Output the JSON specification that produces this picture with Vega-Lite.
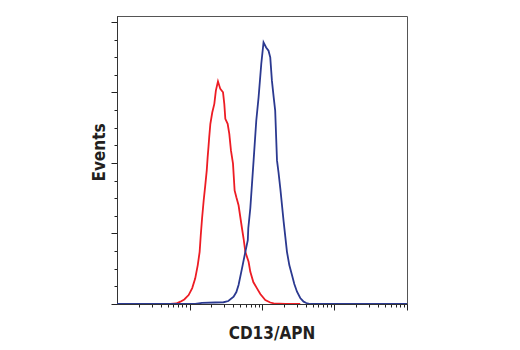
{
  "$schema": "https://vega.github.io/schema/vega-lite/v6.json",
  "width": 290,
  "height": 288,
  "autosize": {"type": "none"},
  "padding": {"left": 117, "top": 16, "right": 113, "bottom": 46},
  "background": "white",
  "config": {
    "view": {"stroke": "#555", "strokeWidth": 1},
    "axis": {"grid": false, "labels": false, "domainColor": "#333", "tickColor": "#222", "domainWidth": 1, "tickWidth": 1,
      "titleFont": "DejaVu Sans Condensed, Liberation Sans, sans-serif", "titleFontSize": 17, "titleFontWeight": "bold", "titleColor": "#231f20"}
  },
  "datasets": {
    "red": [
      {"x": 5.43, "y": 0}, {"x": 6.58, "y": 0.007}, {"x": 7.48, "y": 0.033}, {"x": 8.47, "y": 0.064},
      {"x": 9.73, "y": 0.127}, {"x": 10.9, "y": 0.226}, {"x": 12.0, "y": 0.364}, {"x": 13.0, "y": 0.552},
      {"x": 13.8, "y": 0.74}, {"x": 14.3, "y": 0.976}, {"x": 14.9, "y": 1.212}, {"x": 15.7, "y": 1.471},
      {"x": 16.5, "y": 1.683}, {"x": 17.3, "y": 1.895}, {"x": 17.8, "y": 2.083}, {"x": 18.3, "y": 2.235},
      {"x": 18.7, "y": 2.366}, {"x": 19.4, "y": 2.556}, {"x": 20.6, "y": 2.716}, {"x": 22.0, "y": 2.839},
      {"x": 23.1, "y": 3.027}, {"x": 24.7, "y": 3.158}, {"x": 26.6, "y": 3.051}, {"x": 29.0, "y": 3.003},
      {"x": 30.2, "y": 2.839}, {"x": 31.2, "y": 2.627}, {"x": 33.6, "y": 2.556}, {"x": 35.4, "y": 2.414},
      {"x": 37.3, "y": 2.178}, {"x": 39.8, "y": 1.99}, {"x": 41.9, "y": 1.612}, {"x": 44.3, "y": 1.513},
      {"x": 47.5, "y": 1.4}, {"x": 53.0, "y": 1.071}, {"x": 55.7, "y": 0.929}, {"x": 58.9, "y": 0.74},
      {"x": 65.3, "y": 0.598}, {"x": 69.0, "y": 0.457}, {"x": 75.9, "y": 0.311}, {"x": 85.3, "y": 0.222},
      {"x": 94.8, "y": 0.141}, {"x": 111, "y": 0.057}, {"x": 130, "y": 0.021}, {"x": 145, "y": 0.01},
      {"x": 209, "y": 0}, {"x": 337, "y": 0}
    ],
    "blue": [
      {"x": 1, "y": 0}, {"x": 2.88, "y": 0}, {"x": 12.0, "y": 0}, {"x": 14.9, "y": 0.017},
      {"x": 22.7, "y": 0.021}, {"x": 29.5, "y": 0.025}, {"x": 34.3, "y": 0.042}, {"x": 40.6, "y": 0.103},
      {"x": 44.3, "y": 0.17}, {"x": 47.5, "y": 0.269}, {"x": 53.0, "y": 0.505}, {"x": 58.9, "y": 0.74},
      {"x": 63.7, "y": 0.905}, {"x": 64.7, "y": 1.075}, {"x": 69.0, "y": 1.358}, {"x": 76.6, "y": 2.037},
      {"x": 83.4, "y": 2.603}, {"x": 89.7, "y": 2.932}, {"x": 97.7, "y": 3.404}, {"x": 105, "y": 3.71},
      {"x": 114, "y": 3.639}, {"x": 123, "y": 3.593}, {"x": 130, "y": 3.498}, {"x": 137, "y": 3.168},
      {"x": 145, "y": 2.932}, {"x": 152, "y": 2.744}, {"x": 161, "y": 2.037}, {"x": 169, "y": 1.867},
      {"x": 179, "y": 1.636}, {"x": 199, "y": 1.164}, {"x": 221, "y": 0.74}, {"x": 238, "y": 0.552},
      {"x": 259, "y": 0.41}, {"x": 279, "y": 0.283}, {"x": 304, "y": 0.174}, {"x": 337, "y": 0.085},
      {"x": 375, "y": 0.033}, {"x": 408, "y": 0.014}, {"x": 463, "y": 0}, {"x": 1650, "y": 0},
      {"x": 10000, "y": 0}
    ]
  },
  "layer": [
    {
      "data": {"name": "red"},
      "mark": {"type": "line", "color": "#ed1c24", "strokeWidth": 1.8, "clip": true},
      "encoding": {
        "x": {"field": "x", "type": "quantitative",
          "scale": {"type": "log", "domain": [1, 10000], "nice": false},
          "axis": {"orient": "bottom", "values": [10, 100, 1000, 10000], "tickSize": 6, "title": "CD13/APN",
            "titleX": 154.5, "titleY": 34, "titleAlign": "center", "titleBaseline": "alphabetic"}},
        "y": {"field": "y", "type": "quantitative",
          "scale": {"domain": [0, 4.085], "nice": false, "zero": true},
          "axis": {"orient": "left", "values": [0, 1, 2, 3, 4], "tickSize": 6, "title": "Events",
            "titleX": -13, "titleY": 136, "titleAlign": "center", "titleBaseline": "alphabetic", "titleAngle": 270}}
      }
    },
    {
      "data": {"name": "blue"},
      "mark": {"type": "line", "color": "#2b3990", "strokeWidth": 1.8, "clip": true},
      "encoding": {
        "x": {"field": "x", "type": "quantitative",
          "scale": {"type": "log", "domain": [1, 10000], "nice": false},
          "axis": {"orient": "bottom", "values": [2,3,4,5,6,7,8,9,20,30,40,50,60,70,80,90,200,300,400,500,600,700,800,900,2000,3000,4000,5000,6000,7000,8000,9000], "tickSize": 3, "title": null}},
        "y": {"field": "y", "type": "quantitative",
          "scale": {"domain": [0, 4.085], "nice": false, "zero": true},
          "axis": {"orient": "left", "values": [0.25,0.5,0.75,1.25,1.5,1.75,2.25,2.5,2.75,3.25,3.5,3.75], "tickSize": 3, "title": null}}
      }
    }
  ],
  "resolve": {"axis": {"x": "independent", "y": "independent"}}
}
